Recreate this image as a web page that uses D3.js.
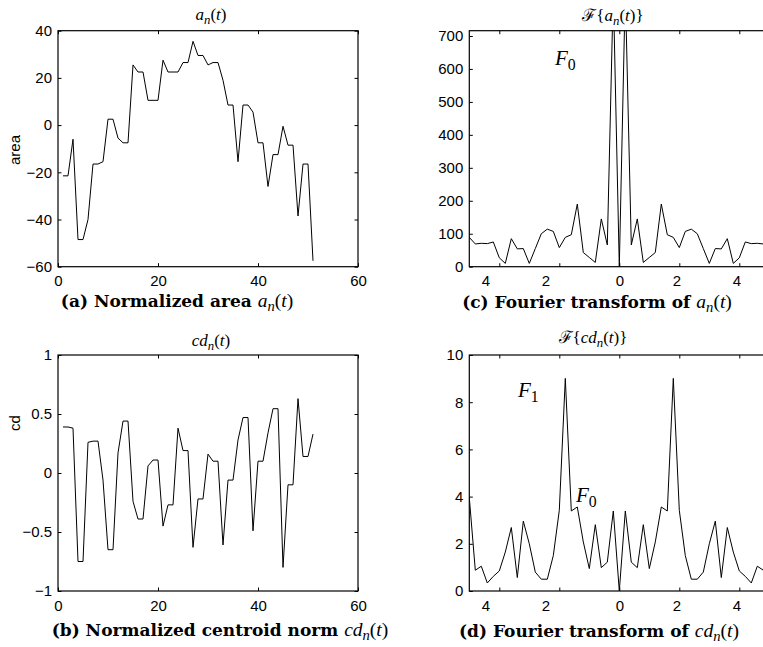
<!DOCTYPE html>
<html>
<head>
<meta charset="utf-8">
<script src="https://cdn.jsdelivr.net/npm/d3@7"></script>
<style>
  body { margin: 0; background: #fff; }
  svg { display: block; }
  .tick text { font-family: "Liberation Sans", Arial, sans-serif; font-size: 15px; fill: #000; }
  .tick line { stroke: #000; }
</style>
</head>
<body>
<svg id="chart" width="763" height="647"></svg>
<script>
// ---------------- DATA ----------------
const t = d3.range(1, 52);
const area = [-21.5, -21.5, -6, -48.5, -48.5, -40, -16.5, -16.5, -15.5, 2.5,
  2.5, -5.5, -7.5, -7.5, 25.5, 22.5, 22.5, 10.5, 10.5, 10.5,
  27.5, 22.5, 22.5, 22.5, 26.5, 26.5, 35.5, 29.5, 29.5, 25.5,
  26.5, 26.5, 19, 8.5, 8.5, -15.5, 8.5, 8.5, 5.5, -7.5,
  -7.5, -26, -12.5, -12.5, -0.5, -8.5, -8.5, -38.5, -16.5, -16.5, -57.5];
const cd = [0.39, 0.39, 0.38, -0.75, -0.75, 0.26, 0.27, 0.27, -0.06, -0.65,
  -0.65, 0.17, 0.44, 0.44, -0.24, -0.39, -0.39, 0.06, 0.11, 0.11,
  -0.45, -0.27, -0.27, 0.38, 0.19, 0.19, -0.63, -0.22, -0.22, 0.16,
  0.10, 0.10, -0.61, -0.06, -0.06, 0.28, 0.47, 0.47, -0.49, 0.10,
  0.10, 0.34, 0.545, 0.545, -0.80, -0.10, -0.10, 0.63, 0.14, 0.14, 0.33];

// frequency bins -25..25
const freq = d3.range(-25, 26).map(k => k / 5);
const fArea = [89, 69, 71, 70, 75, 27, 10, 85, 54, 55, 10, 55, 100, 114, 107, 58, 89, 97, 190, 43, 28, 13, 145, 66, 840,
  0,
  840, 66, 145, 13, 28, 43, 190, 97, 89, 58, 107, 114, 100, 55, 10, 55, 54, 85, 10, 27, 75, 70, 71, 69, 89];
const fCd = [3.95, 0.88, 1.05, 0.34, 0.62, 0.85, 1.65, 2.69, 0.57, 2.96, 2.0, 0.8, 0.5, 0.5, 1.5, 3.42, 9.01, 3.39, 3.56, 2.08, 0.95, 2.81, 0.99, 1.22, 3.39,
  0,
  3.39, 1.22, 0.99, 2.81, 0.95, 2.08, 3.56, 3.39, 9.01, 3.42, 1.5, 0.5, 0.5, 0.8, 2.0, 2.96, 0.57, 2.69, 1.65, 0.85, 0.62, 0.34, 1.05, 0.88, 3.95];

const tTicks = [0, 20, 40, 60];
const areaTicks = [-60, -40, -20, 0, 20, 40];
const cdTicks = [-1, -0.5, 0, 0.5, 1];
const freqTicks = [-4, -2, 0, 2, 4];
const fAreaTicks = [0, 100, 200, 300, 400, 500, 600, 700];
const fCdTicks = [0, 2, 4, 6, 8, 10];

const svg = d3.select("#chart");
const MATH = '"Liberation Serif", "Times New Roman", serif';
const BOLD = '"DejaVu Serif", serif';

// write a little LaTeX-ish string: parts of [text, italic, sub]
function mathText(sel, parts, size) {
  parts.forEach((p, i) => {
    const prevSub = i > 0 && parts[i - 1][2];
    const ts = sel.append("tspan")
      .text(p[0])
      .attr("font-family", MATH)
      .attr("font-style", p[1] ? "italic" : "normal")
      .attr("font-weight", "normal")
      .attr("font-size", p[2] ? size * 0.75 : size);
    if (p[2]) ts.attr("dy", size * 0.22);
    else if (prevSub) ts.attr("dy", -size * 0.22);
  });
  return sel;
}

function drawPanel(o) {
  const W = 300, H = 236;
  const x = d3.scaleLinear().domain(o.xDomain).range([o.left, o.left + W]);
  const y = d3.scaleLinear().domain(o.yDomain).range([o.top + H, o.top]);
  const g = svg.append("g");

  g.append("clipPath").attr("id", o.id)
    .append("rect").attr("x", o.left).attr("y", o.top).attr("width", W).attr("height", H);

  // axes, ticks pointing inward on all four sides
  const bottom = g.append("g").attr("transform", `translate(0,${o.top + H})`)
    .call(d3.axisBottom(x).tickValues(o.xTicks).tickSize(-3.5).tickPadding(9).tickFormat(o.xFormat || d3.format("d")));
  g.append("g").attr("transform", `translate(0,${o.top})`)
    .call(d3.axisTop(x).tickValues(o.xTicks).tickSize(-3.5).tickFormat(""));
  g.append("g").attr("transform", `translate(${o.left},0)`)
    .call(d3.axisLeft(y).tickValues(o.yTicks).tickSize(-3.5).tickPadding(6).tickFormat(o.yFormat || d3.format("d")));
  g.append("g").attr("transform", `translate(${o.left + W},0)`)
    .call(d3.axisRight(y).tickValues(o.yTicks).tickSize(-3.5).tickFormat(""));
  g.selectAll(".domain").remove();

  if (o.labelShift) bottom.selectAll(".tick text").attr("dx", o.labelShift);

  // data line
  g.append("path")
    .datum(o.values)
    .attr("clip-path", `url(#${o.id})`)
    .attr("fill", "none")
    .attr("stroke", "#000")
    .attr("stroke-width", 1)
    .attr("d", d3.line().x((d, i) => x(o.xs[i])).y(d => y(d)));

  // box
  g.append("rect")
    .attr("x", o.left).attr("y", o.top).attr("width", W).attr("height", H)
    .attr("fill", "none").attr("stroke", "#000").attr("stroke-width", 1.2);

  // title above
  mathText(g.append("text").attr("x", o.titleX).attr("y", o.titleY).attr("text-anchor", "middle"), o.title, 17);

  // caption below
  const cap = g.append("text").attr("x", o.capX).attr("y", o.capY).attr("text-anchor", "middle");
  cap.append("tspan").text(o.caption).attr("font-family", BOLD).attr("font-weight", "bold").attr("font-size", 17);
  mathText(cap, o.capMath, 19.5);

  if (o.ylabel) {
    g.append("text")
      .attr("transform", `translate(20,${o.ylabelY}) rotate(-90)`)
      .attr("text-anchor", "middle")
      .attr("font-family", '"Liberation Sans", Arial, sans-serif')
      .attr("font-size", 15)
      .text(o.ylabel);
  }
  return { x, y, g };
}

const freqFormat = d => String(Math.abs(d));
const freqShift = d => d < 0 ? -14 : d > 0 ? -3 : 0;

// ---------------- (a) ----------------
drawPanel({
  id: "clipA", left: 58, top: 30.7, xs: t, values: area,
  xDomain: [0, 60], yDomain: [-60, 40], xTicks: tTicks, yTicks: areaTicks,
  title: [["a", true], ["n", true, true], ["(", false], ["t", true], [")", false]],
  titleX: 211, titleY: 20,
  caption: "(a) Normalized area ", capMath: [["a", true], ["n", true, true], ["(", false], ["t", true], [")", false]],
  capX: 177, capY: 307,
  ylabel: "area", ylabelY: 150
});

// ---------------- (b) ----------------
drawPanel({
  id: "clipB", left: 58, top: 355, xs: t, values: cd,
  xDomain: [0, 60], yDomain: [-1, 1], xTicks: tTicks, yTicks: cdTicks,
  yFormat: d => d === 0 ? "0" : d3.format("")(d).replace("-", "\u2212"),
  title: [["cd", true], ["n", true, true], ["(", false], ["t", true], [")", false]],
  titleX: 211, titleY: 346,
  caption: "(b) Normalized centroid norm ", capMath: [["cd", true], ["n", true, true], ["(", false], ["t", true], [")", false]],
  capX: 220, capY: 636,
  ylabel: "cd", ylabelY: 423
});

// ---------------- (c) ----------------
const c = drawPanel({
  id: "clipC", left: 469.3, top: 30.7, xs: freq, values: fArea,
  xDomain: [-5, 5], yDomain: [0, 716], xTicks: freqTicks, yTicks: fAreaTicks,
  xFormat: freqFormat, labelShift: freqShift,
  title: [["\u2131", false], ["{", false], ["a", true], ["n", true, true], ["(", false], ["t", true], [")}", false]],
  titleX: 613, titleY: 21,
  caption: "(c) Fourier transform of ", capMath: [["a", true], ["n", true, true], ["(", false], ["t", true], [")", false]],
  capX: 597, capY: 308
});
mathText(c.g.append("text").attr("x", 555).attr("y", 65), [["F", true], ["0", false, true]], 21);

// ---------------- (d) ----------------
const dP = drawPanel({
  id: "clipD", left: 469.3, top: 355, xs: freq, values: fCd,
  xDomain: [-5, 5], yDomain: [0, 10], xTicks: freqTicks, yTicks: fCdTicks,
  xFormat: freqFormat, labelShift: freqShift,
  title: [["\u2131", false], ["{", false], ["cd", true], ["n", true, true], ["(", false], ["t", true], [")}", false]],
  titleX: 593, titleY: 343,
  caption: "(d) Fourier transform of ", capMath: [["cd", true], ["n", true, true], ["(", false], ["t", true], [")", false]],
  capX: 599, capY: 637
});
mathText(dP.g.append("text").attr("x", 518).attr("y", 397), [["F", true], ["1", false, true]], 21);
mathText(dP.g.append("text").attr("x", 576).attr("y", 502), [["F", true], ["0", false, true]], 21);
</script>
</body>
</html>
